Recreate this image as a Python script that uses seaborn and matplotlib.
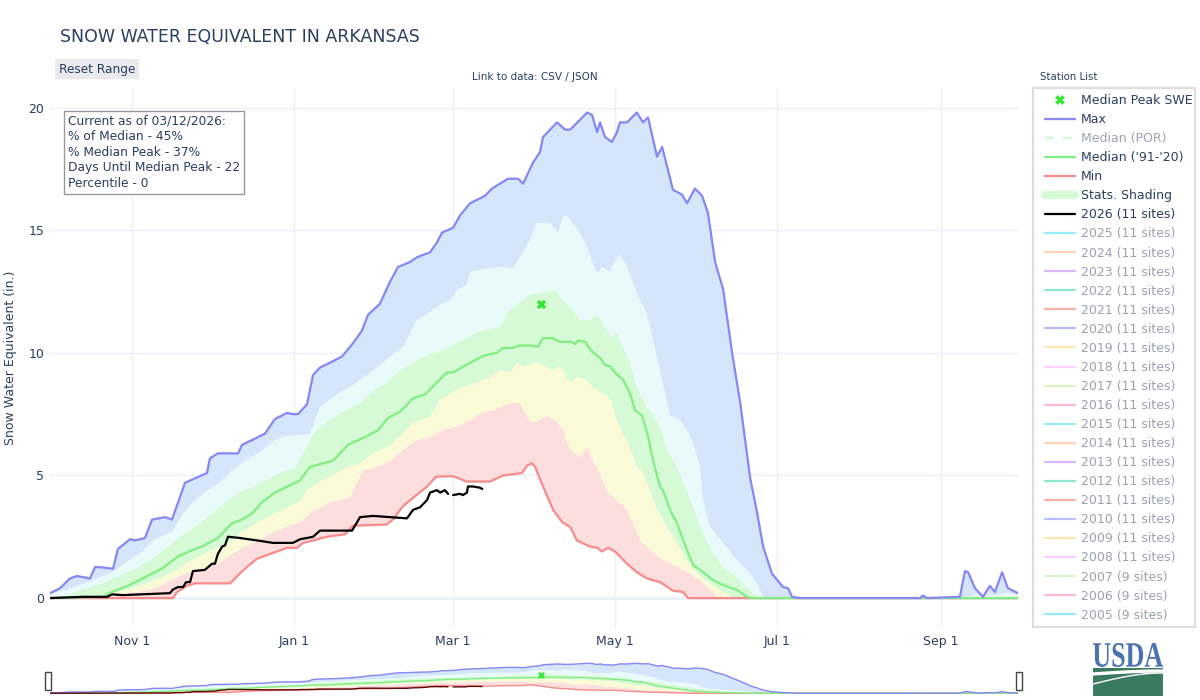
"""
Snow water equivalent chart for Arkansas - redrawn with seaborn/matplotlib
"""

import numpy as np
import pandas as pd
import matplotlib
matplotlib.use("Agg")
import matplotlib.pyplot as plt
import matplotlib.dates as mdates
from matplotlib.lines import Line2D
from matplotlib.patches import Rectangle, PathPatch
from matplotlib.textpath import TextPath
from matplotlib.font_manager import FontProperties
from matplotlib.transforms import Affine2D
from matplotlib.ticker import FuncFormatter
import seaborn as sns

# Values: day of water year (0 = Oct 1) and SWE in inches
max_days = [0, 3.8, 7.5, 10.2, 15.1, 17, 19.6, 23.8, 25.6, 30.2,
            32, 35.8, 38.5, 43.4, 46, 50.9, 59.2, 60.3, 63.3, 70.9,
            72.4, 77.3, 81, 84.8, 89.4, 91.6, 93.5, 96.9, 99.2, 101.8,
            105.6, 110.1, 114.3, 117.6, 119.9, 124.4, 128.2, 131.2, 135.7, 138.4,
            143.3, 145.9, 147.8, 152, 154.6, 158.4, 164, 166.7, 172.7, 176.5,
            178.4, 182.1, 184.8, 185.9, 191.2, 194.2, 196.1, 199.8, 202.5, 204.4,
            206.3, 207.4, 209.3, 211.9, 213.8, 214.9, 217.6, 221.3, 223.6, 225.5,
            228.9, 230.8, 234.9, 238.3, 240.2, 243.2, 245.9, 248.1, 250.8, 253.8,
            257.2, 260.2, 264, 266.6, 268.9, 272.2, 276.4, 278.3, 279.8, 282.8,
            328, 329.2, 330.7, 343.1, 345, 346.2, 348.8, 351.8, 354.4, 356.3,
            359, 361.2, 363.1, 365]
max_swe = [0.2, 0.4, 0.8, 0.9, 0.8, 1.27, 1.25, 1.2, 2.0, 2.4,
           2.35, 2.45, 3.2, 3.3, 3.2, 4.7, 5.1, 5.7, 5.9, 5.9,
           6.25, 6.5, 6.7, 7.3, 7.55, 7.5, 7.5, 7.9, 9.1, 9.4,
           9.6, 9.85, 10.4, 10.9, 11.55, 12.0, 12.9, 13.5, 13.7, 13.9,
           14.1, 14.5, 14.9, 15.1, 15.6, 16.1, 16.4, 16.7, 17.1, 17.1,
           16.9, 17.75, 18.2, 18.8, 19.4, 19.1, 19.1, 19.5, 19.8, 19.7,
           19.0, 19.4, 18.8, 18.6, 19.0, 19.4, 19.4, 19.8, 19.4, 19.6,
           18.0, 18.4, 16.65, 16.45, 16.1, 16.7, 16.4, 15.7, 13.7, 12.6,
           10.0, 8.0, 4.9, 3.5, 2.1, 1.0, 0.45, 0.4, 0.05, 0,
           0, 0.1, 0, 0.05, 1.1, 1.05, 0.4, 0.05, 0.5, 0.25,
           1.05, 0.4, 0.3, 0.2]

p90_days = [0, 10.6, 15.8, 23.4, 29.4, 34.7, 39.6, 46, 49.8, 54.7,
            59.6, 64.9, 68.6, 73.5, 78.4, 84.8, 88.6, 95, 98, 101.8,
            108.2, 115.8, 123.3, 128.2, 133.1, 135.7, 138.4, 142.2, 145.9, 150.8,
            153.5, 157.2, 158.4, 164.8, 170.8, 174.6, 177.2, 179.9, 182.1, 183.6,
            188.5, 191.6, 193.4, 194.9, 199.8, 202.9, 205.5, 206.6, 208.1, 211.2,
            212.3, 214.9, 217.6, 221.3, 225.1, 227.4, 230, 231.9, 233.8, 237.6,
            240.2, 242.5, 245.1, 246.2, 248.9, 253.8, 259, 262.8, 266.6, 268.9,
            271.5, 343, 349, 356, 360, 365]
p90_swe = [0.15, 0.5, 0.7, 1.05, 1.5, 1.9, 2.4, 2.7, 3.4, 4.0,
           4.4, 4.8, 5.2, 5.6, 5.9, 6.45, 6.6, 6.65, 6.7, 7.8,
           8.3, 8.8, 9.4, 9.85, 10.25, 10.8, 11.35, 11.6, 11.9, 12.15,
           12.55, 12.8, 13.3, 13.45, 13.5, 13.45, 13.9, 14.4, 14.9, 15.3,
           15.3, 14.9, 15.55, 15.6, 14.9, 14.2, 13.4, 13.25, 13.5, 13.3,
           13.65, 14.0, 13.5, 12.45, 11.6, 10.5, 9.3, 8.35, 7.45, 7.25,
           6.85, 6.3, 5.35, 4.0, 2.9, 2.25, 1.55, 1.15, 0.6, 0.05,
           0, 0, 0.15, 0.1, 0.2, 0.15]

p70_days = [0, 5.7, 13.2, 19.6, 27.1, 33.2, 39.6, 46, 50.9, 55.8,
            61.1, 66, 70.9, 76.2, 81.1, 86, 92.4, 94.3, 99.2, 104.4,
            109.4, 115.8, 120.7, 127.1, 130.8, 134.6, 140.6, 145.9, 149.7, 155.7,
            161, 165.9, 169.7, 172.3, 176.1, 178.4, 181, 184.8, 187.4, 191.2,
            193.4, 197.2, 199.8, 203.6, 206.3, 208.5, 211.2, 213.8, 216.1, 218.7,
            221.3, 225.1, 228.9, 231.1, 232.7, 236.4, 240.2, 244, 246.2, 250,
            253.8, 257.5, 261.3, 265.1, 267.7, 365]
p70_swe = [0, 0.1, 0.4, 0.6, 0.95, 1.27, 1.7, 2.25, 2.65, 3.0,
           3.45, 3.9, 4.3, 4.55, 4.8, 5.1, 5.3, 5.7, 6.7, 7.2,
           7.55, 7.9, 8.35, 8.8, 9.2, 9.45, 9.85, 10.05, 10.2, 10.55,
           10.85, 11.0, 11.05, 11.6, 12.0, 12.15, 12.4, 12.4, 12.55, 12.5,
           12.15, 11.75, 11.35, 11.35, 11.55, 11.2, 10.65, 10.8, 10.25, 9.6,
           8.6, 7.8, 7.25, 6.7, 6.05, 5.35, 4.4, 3.3, 2.65, 1.85,
           1.27, 1.0, 0.6, 0.2, 0, 0]

median_days = [0, 19.6, 23.4, 29.4, 35.8, 42.2, 48.3, 53.5, 57.3, 63.3,
               68.6, 72.4, 76.2, 79.9, 84.8, 88.6, 92.4, 94.3, 98, 106.7,
               112.4, 119.5, 123.7, 127.5, 132, 136.9, 141.4, 145.9, 149.7, 152,
               158.4, 164, 168.6, 170.8, 174.2, 177.2, 181, 184, 185.9, 189.7,
               192.3, 196.8, 198, 199.1, 201.7, 204.4, 207.4, 209.3, 211.2, 213,
               216.1, 218.7, 220.6, 223.2, 225.5, 227.4, 230, 231.1, 233.8, 236.4,
               240.2, 242.5, 246.2, 250, 253.8, 259, 262.8, 265, 365]
median_swe = [0, 0.05, 0.25, 0.5, 0.85, 1.2, 1.7, 1.95, 2.1, 2.45,
              3.05, 3.2, 3.45, 3.9, 4.3, 4.5, 4.7, 4.8, 5.35, 5.6,
              6.25, 6.6, 6.85, 7.35, 7.6, 8.15, 8.3, 8.8, 9.2, 9.2,
              9.6, 9.9, 10.0, 10.2, 10.2, 10.3, 10.3, 10.25, 10.6, 10.6,
              10.45, 10.45, 10.35, 10.5, 10.45, 10.05, 9.8, 9.5, 9.45, 9.2,
              8.9, 8.35, 7.65, 7.45, 6.6, 5.6, 4.55, 4.4, 3.6, 3.05,
              1.95, 1.35, 1.06, 0.73, 0.53, 0.33, 0.05, 0, 0]

p30_days = [0, 14.3, 23.4, 30.9, 35.8, 42.2, 48.3, 53.5, 58.4, 63.3,
            68.6, 73.5, 78.4, 83.7, 88.6, 94.3, 96.9, 100.7, 105.6, 112,
            116.9, 121.8, 127.1, 132, 136.9, 143.3, 147.1, 150.8, 155.7, 161,
            165.9, 169.7, 173.5, 176.1, 178.4, 183.6, 189.7, 192.3, 196.1, 198.7,
            202.5, 204.8, 208.5, 211.2, 213.8, 216.1, 218.7, 221.3, 223.6, 226.2,
            228.9, 232.7, 236.4, 240.2, 244, 248.9, 253.8, 257.5, 365]
p30_swe = [0, 0, 0.2, 0.4, 0.6, 0.85, 1.2, 1.55, 1.8, 2.1,
           2.35, 2.8, 3.1, 3.4, 3.65, 3.95, 4.4, 4.7, 4.95, 5.35,
           5.5, 5.9, 6.15, 6.6, 7.15, 7.4, 8.1, 8.35, 8.6, 8.8,
           9.0, 9.3, 9.2, 9.6, 9.45, 9.6, 9.3, 9.45, 8.8, 9.0,
           8.9, 8.6, 8.35, 8.1, 7.25, 6.7, 6.15, 5.35, 5.1, 4.4,
           3.6, 2.9, 2.25, 1.55, 1.0, 0.6, 0.25, 0, 0]

p10_days = [0, 22.6, 29.4, 35.8, 40.7, 46, 50.9, 57.3, 63.3, 68.6,
            73.5, 78.4, 83.7, 88.6, 94.3, 98, 105.6, 113.1, 116.9, 118,
            123.3, 128.2, 133.1, 138.4, 143.3, 148.2, 153.5, 158.4, 162.1, 168.6,
            173.5, 177.2, 181, 183.6, 187.4, 191.2, 193.4, 196.1, 199.8, 202.5,
            204.8, 207.4, 210, 213.8, 217.6, 219.8, 222.5, 227.4, 231.1, 236.4,
            241.3, 245.1, 248.9, 251.5, 253.4, 365]
p10_swe = [0, 0, 0.2, 0.3, 0.45, 0.75, 1.0, 1.15, 1.4, 1.8,
           2.1, 2.35, 2.65, 2.9, 3.1, 3.45, 3.9, 4.1, 4.95, 5.2,
           5.35, 5.6, 6.05, 6.45, 6.55, 6.85, 7.0, 7.25, 7.55, 7.7,
           7.95, 7.95, 7.2, 7.2, 7.45, 7.2, 6.85, 6.05, 5.75, 6.15,
           5.6, 5.1, 4.35, 4.0, 3.6, 3.05, 2.35, 1.85, 1.55, 1.27,
           1.0, 0.73, 0.33, 0.05, 0, 0]

min_days = [0, 46.4, 47.9, 51.7, 54.7, 67.9, 71.6, 74.3, 78, 83,
            89.4, 93.1, 95.4, 99.2, 104.4, 111.2, 114.3, 127, 129.3, 133.1,
            137.6, 142.2, 145.6, 152, 157.2, 165.9, 170.8, 174.6, 178, 179.9,
            181.7, 182.9, 185.9, 189.7, 193.1, 196.1, 198.7, 203.6, 206.3, 208.1,
            210.4, 213, 217.6, 221.3, 225.1, 230, 234.9, 238.7, 240.6, 365]
min_swe = [0, 0, 0.25, 0.5, 0.6, 0.6, 1.0, 1.27, 1.6, 1.8,
           2.05, 2.05, 2.25, 2.35, 2.5, 2.6, 2.95, 3.0, 3.2, 3.75,
           4.15, 4.55, 4.95, 4.97, 4.75, 4.75, 5.0, 5.05, 5.1, 5.4,
           5.5, 5.35, 4.55, 3.6, 3.1, 2.9, 2.35, 2.1, 2.05, 1.9,
           2.05, 1.9, 1.4, 1.05, 0.8, 0.65, 0.3, 0.25, 0, 0]

wy2026_days = [0, 12.4, 21.5, 23.4, 27.5, 33.9, 45.2, 46.4, 48.3, 50.2,
               51.3, 52.8, 53.9, 58.4, 61.1, 62.2, 63.3, 64.9, 66, 67.1,
               71.6, 78.1, 84.1, 91.6, 94.3, 96.9, 99.2, 101.8, 113.9, 116.9,
               121.8, 128.2, 134.6, 136.9, 139.5, 142.2, 143.3, 145.9, 147.1, 148.9,
               150.1, 150.8, 152, 154.6, 155.7, 157.2, 157.6, 159.5, 162.1, 163]
wy2026_swe = [0, 0.05, 0.05, 0.15, 0.12, 0.15, 0.2, 0.35, 0.45, 0.45,
              0.65, 0.65, 1.1, 1.15, 1.4, 1.4, 1.8, 2.1, 2.15, 2.5,
              2.45, 2.35, 2.25, 2.25, 2.4, 2.45, 2.5, 2.75, 2.75, 3.3,
              3.35, 3.3, 3.25, 3.6, 3.7, 4.0, 4.3, 4.4, 4.3, 4.4,
              4.25, np.nan, 4.2, 4.25, 4.2, 4.3, 4.55, 4.55, 4.5, 4.45]

median_peak_day = [185.1]
median_peak_swe = [12.0]

year_labels = ['2025 (11 sites)', '2024 (11 sites)', '2023 (11 sites)', '2022 (11 sites)',
               '2021 (11 sites)', '2020 (11 sites)', '2019 (11 sites)', '2018 (11 sites)',
               '2017 (11 sites)', '2016 (11 sites)', '2015 (11 sites)', '2014 (11 sites)',
               '2013 (11 sites)', '2012 (11 sites)', '2011 (11 sites)', '2010 (11 sites)',
               '2009 (11 sites)', '2008 (11 sites)', '2007 (9 sites)', '2006 (9 sites)',
               '2005 (9 sites)']
year_cycle = ['#19d3f3', '#FFA15A', '#ab63fa', '#00cc96', '#EF553B',
              '#636efa', '#FECB52', '#FF97FF', '#B6E880', '#FF6692']

info_text = ("Current as of 03/12/2026:\n% of Median - 45%\n% Median Peak - 37%\n"
             "Days Until Median Peak - 22\nPercentile - 0")

# Styling
TEXT = '#2a3f5f'
GRID = '#ebf0f8'
C_MAX, C_MED, C_MIN = '#8686f4', '#80ee80', '#f78a8a'
BANDS = ['#fddede', '#fafad6', '#d6fad6', '#e8fafa', '#d6e6fa']
PEAK_GREEN = '#2fe52f'

W, H = 1200, 700
WY_START = pd.Timestamp('2019-10-01')  # leap-year template, like the source chart


def to_dates(days):
    return WY_START + pd.to_timedelta(np.asarray(days, dtype=float), unit='D')


def fx(px):
    return px / W


def fy(py):
    return 1 - py / H


def series_frame(days, swe):
    return pd.DataFrame({'date': to_dates(days), 'swe': np.asarray(swe, dtype=float)})


def fill_band(ax, lo, hi, color):
    xs = np.concatenate([to_dates(hi[0]).values, to_dates(lo[0]).values[::-1]])
    ys = np.concatenate([np.asarray(hi[1], float), np.asarray(lo[1], float)[::-1]])
    ax.fill(xs, ys, color=color, lw=0, zorder=1)


def draw_stats(ax, lw, black='black'):
    curves = [(min_days, min_swe), (p10_days, p10_swe), (p30_days, p30_swe),
              (p70_days, p70_swe), (p90_days, p90_swe), (max_days, max_swe)]
    for (lo, hi, col) in zip(curves[:-1], curves[1:], BANDS):
        fill_band(ax, lo, hi, col)

    sns.lineplot(data=series_frame(min_days, min_swe), x='date', y='swe',
                 color=C_MIN, lw=lw, ax=ax, zorder=3, estimator=None)
    sns.lineplot(data=series_frame(median_days, median_swe), x='date', y='swe',
                 color=C_MED, lw=lw, ax=ax, zorder=3, estimator=None)
    sns.lineplot(data=series_frame(max_days, max_swe), x='date', y='swe',
                 color=C_MAX, lw=lw, ax=ax, zorder=3, estimator=None)

    # current year: break the line where a day is missing
    cur = series_frame(wy2026_days, wy2026_swe)
    cur['seg'] = cur['swe'].isna().cumsum()
    cur = cur.dropna()
    sns.lineplot(data=cur, x='date', y='swe', units='seg', estimator=None,
                 color=black, lw=lw, ax=ax, zorder=4)

    sns.scatterplot(x=to_dates(median_peak_day), y=median_peak_swe, marker='X',
                    color=PEAK_GREEN, s=45 if lw > 1 else 25, linewidth=0, ax=ax, zorder=5)


sns.set_theme(style='white')
plt.rcParams['font.family'] = ['DejaVu Sans']

fig = plt.figure(figsize=(12, 7), dpi=100)

# ---- main plot
ax = fig.add_axes([fx(50), fy(627), fx(968), 539 / H])
draw_stats(ax, lw=1.6)

ax.set_xlim(to_dates([0])[0], to_dates([365])[0])
ax.set_ylim(-1.18, 20.8)
ax.set_yticks([0, 5, 10, 15, 20])
ax.xaxis.set_major_locator(mdates.MonthLocator(bymonth=[11, 1, 3, 5, 7, 9], bymonthday=1))
ax.xaxis.set_major_formatter(FuncFormatter(
    lambda v, p: f"{mdates.num2date(v):%b} {mdates.num2date(v).day}"))
ax.grid(True, color=GRID, lw=1)
ax.set_axisbelow(True)
ax.axhline(0, color=GRID, lw=2, zorder=0.5)
for s in ax.spines.values():
    s.set_visible(False)
ax.tick_params(axis='x', length=0, labelsize=9, colors=TEXT, pad=6)
ax.tick_params(axis='y', length=0, labelsize=9, colors=TEXT, pad=4)
ax.set_xlabel('')
ax.set_ylabel('Snow Water Equivalent (in.)', fontsize=9, color=TEXT)
# right edge of the rotated label sits about 17 px from the figure edge
ax.yaxis.set_label_coords(-33 / 968, 0.5)

# ---- range slider
nav = fig.add_axes([fx(50), fy(694), fx(968), 34 / H])
draw_stats(nav, lw=1.0, black='#5c0a0a')
nav.set_xlim(to_dates([0])[0], to_dates([365])[0])
nav.set_ylim(-0.5, 22)
nav.axis('off')
for hx in (48, 1019):
    fig.add_artist(Rectangle((fx(hx - 3), fy(690)), fx(6), 18 / H, transform=fig.transFigure,
                             fc='white', ec='#444444', lw=1))

# ---- texts
fig.text(fx(60), fy(37), 'SNOW WATER EQUIVALENT IN ARKANSAS', fontsize=12.5,
         color=TEXT, va='center', ha='left')
fig.text(fx(97), fy(69), 'Reset Range', fontsize=8.7, color=TEXT, va='center', ha='center',
         bbox=dict(boxstyle='square,pad=0.3', fc='#e9eaee', ec='none'))
fig.text(fx(535), fy(77), 'Link to data: CSV / JSON', fontsize=7.5, color=TEXT,
         va='center', ha='center')
fig.text(fx(1040), fy(77), 'Station List', fontsize=7.3, color=TEXT, va='center', ha='left')
fig.text(fx(68), fy(115), info_text, fontsize=8.8, color=TEXT, va='top', ha='left',
         linespacing=1.25,
         bbox=dict(boxstyle='square,pad=0.3', fc='white', ec='#999999', lw=1))

# ---- legend
fig.add_artist(Rectangle((fx(1033), fy(627)), fx(162), 539 / H, transform=fig.transFigure,
                         fc='white', ec='#dddddd', lw=1.5))
ACTIVE, HIDDEN = TEXT, '#98a2b3'
handles = [Line2D([], [], marker='X', ls='none', color=PEAK_GREEN, markersize=7, mew=0),
           Line2D([], [], color=C_MAX, lw=1.6),
           Line2D([], [], color=C_MED, lw=1.6, ls=(0, (4, 4)), alpha=0.35),
           Line2D([], [], color=C_MED, lw=1.6),
           Line2D([], [], color=C_MIN, lw=1.6),
           Line2D([], [], color=BANDS[2], lw=6),
           Line2D([], [], color='black', lw=1.6)]
labels = ['Median Peak SWE', 'Max', 'Median (POR)', "Median ('91-'20)", 'Min',
          'Stats. Shading', '2026 (11 sites)']
colors = [ACTIVE, ACTIVE, HIDDEN, ACTIVE, ACTIVE, ACTIVE, ACTIVE]
for i, lab in enumerate(year_labels):
    handles.append(Line2D([], [], color=year_cycle[i % len(year_cycle)], lw=1.6, alpha=0.45))
    labels.append(lab)
    colors.append(HIDDEN)

leg = fig.legend(handles, labels, loc='upper left', bbox_to_anchor=(fx(1045), fy(94)),
                 frameon=False, fontsize=9, labelspacing=0.485, handlelength=2.4,
                 handletextpad=0.5, borderpad=0, borderaxespad=0)
for txt, col in zip(leg.get_texts(), colors):
    txt.set_color(col)

# ---- USDA logo (axes in pixel units, 78 x 55)
logo = fig.add_axes([fx(1088), fy(697), fx(78), 55 / H])
logo.set_xlim(0, 78)
logo.set_ylim(0, 55)
logo.axis('off')
tp = TextPath((0, 0), 'USDA', size=1,
              prop=FontProperties(family='Liberation Serif', weight='bold'))
ext = tp.get_extents()
sx, sy = 70 / ext.width, 24 / ext.height
tp = Affine2D().translate(-ext.x0, -ext.y0).scale(sx, sy).translate(5, 30).transform_path(tp)
logo.add_patch(PathPatch(tp, fc='#4a71b0', ec='none'))
logo.add_patch(Rectangle((5, 1), 70, 28, fc='#3a7a5e', ec='none'))
t = np.linspace(0, 1, 30)
logo.plot(5 + 70 * t, 23 + 3 * np.sin(t * np.pi / 2), color='white', lw=2.4)
logo.plot(5 + 70 * t, 13 + 11 * np.sin(t * np.pi / 2), color='white', lw=1.0)

fig.savefig('out.png', dpi=100)
